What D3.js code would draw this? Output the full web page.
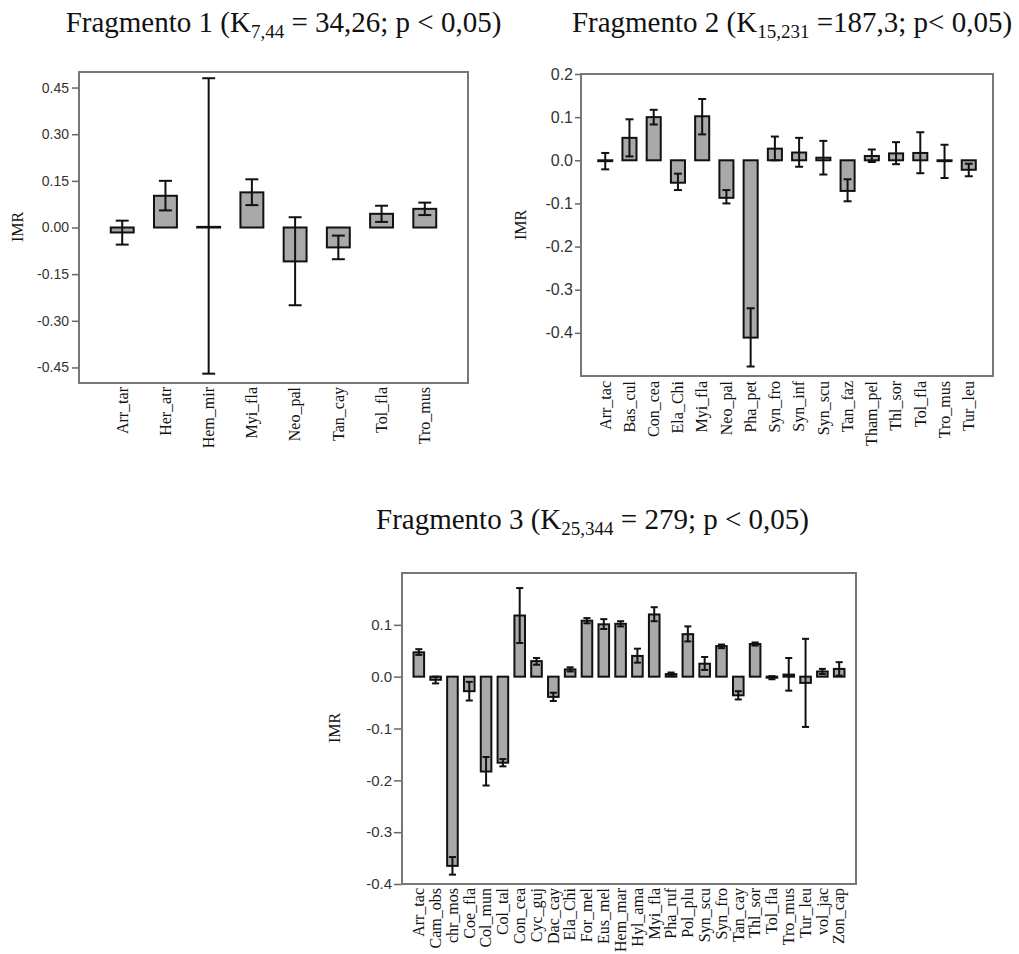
<!DOCTYPE html>
<html>
<head>
<meta charset="utf-8">
<script src="https://cdn.jsdelivr.net/npm/d3@7"></script>
<style>
  html, body { margin: 0; padding: 0; background: #fff; }
  svg { display: block; }
</style>
</head>
<body>
<script>
// ---- Fragmento 1 ----
const f1Species = ["Arr_tar", "Her_atr", "Hem_mir", "Myi_fla", "Neo_pal", "Tan_cay", "Tol_fla", "Tro_mus"];
const f1Mean = [-0.016, 0.102, 0.002, 0.113, -0.109, -0.064, 0.044, 0.060];
const f1Low  = [-0.055, 0.055, -0.470, 0.072, -0.250, -0.102, 0.018, 0.040];
const f1High = [0.022, 0.150, 0.480, 0.155, 0.033, -0.026, 0.070, 0.080];
const f1Ticks = [-0.45, -0.30, -0.15, 0.00, 0.15, 0.30, 0.45];

// ---- Fragmento 2 ----
const f2Species = ["Arr_tac", "Bas_cul", "Con_cea", "Ela_Chi", "Myi_fla", "Neo_pal", "Pha_pet", "Syn_fro",
                   "Syn_inf", "Syn_scu", "Tan_faz", "Tham_pel", "Thl_sor", "Tol_fla", "Tro_mus", "Tur_leu"];
const f2Mean = [-0.002, 0.052, 0.100, -0.052, 0.102, -0.087, -0.411, 0.027,
                0.018, 0.006, -0.071, 0.010, 0.016, 0.017, -0.002, -0.022];
const f2Low  = [-0.021, 0.009, 0.083, -0.069, 0.060, -0.100, -0.478, 0.000,
                -0.015, -0.033, -0.095, -0.004, -0.009, -0.030, -0.041, -0.037];
const f2High = [0.017, 0.095, 0.117, -0.031, 0.142, -0.069, -0.343, 0.055,
                0.052, 0.045, -0.044, 0.025, 0.042, 0.065, 0.036, -0.008];
const f2Ticks = [-0.4, -0.3, -0.2, -0.1, 0.0, 0.1, 0.2];

// ---- Fragmento 3 ----
const f3Species = ["Arr_tac", "Cam_obs", "chr_mos", "Coe_fla", "Col_mun", "Col_tal", "Con_cea", "Cyc_guj",
                   "Dac_cay", "Ela_Chi", "For_mel", "Eus_mel", "Hem_mar", "Hyl_ama", "Myi_fla", "Pha_ruf",
                   "Pol_plu", "Syn_scu", "Syn_fro", "Tan_cay", "Thl_sor", "Tol_fla", "Tro_mus", "Tur_leu",
                   "vol_jac", "Zon_cap"];
const f3Mean = [0.047, -0.006, -0.365, -0.028, -0.183, -0.166, 0.118, 0.030,
                -0.039, 0.014, 0.108, 0.101, 0.102, 0.040, 0.120, 0.005,
                0.082, 0.025, 0.059, -0.036, 0.063, -0.002, 0.004, -0.012,
                0.010, 0.015];
const f3Low  = [0.042, -0.013, -0.382, -0.046, -0.210, -0.173, 0.065, 0.023,
                -0.047, 0.010, 0.103, 0.092, 0.097, 0.027, 0.107, 0.002,
                0.068, 0.013, 0.055, -0.044, 0.060, -0.005, -0.027, -0.097,
                0.005, 0.002];
const f3High = [0.053, 0.000, -0.348, -0.010, -0.155, -0.159, 0.171, 0.036,
                -0.031, 0.018, 0.113, 0.111, 0.107, 0.054, 0.134, 0.008,
                0.097, 0.038, 0.062, -0.028, 0.066, 0.001, 0.036, 0.073,
                0.015, 0.028];
const f3Ticks = [-0.4, -0.3, -0.2, -0.1, 0.0, 0.1];

const W = 1019, H = 954;
const svg = d3.select("body").append("svg").attr("width", W).attr("height", H);
svg.append("rect").attr("width", W).attr("height", H).attr("fill", "#fff");

const locale = d3.formatLocale({ decimal: ".", thousands: ",", grouping: [3], currency: ["", ""], minus: "-" });

function drawTitle(cx, baseline, pre, sub, post) {
  const t = svg.append("text")
    .attr("x", cx).attr("y", baseline)
    .attr("text-anchor", "middle")
    .attr("font-family", "'Liberation Serif', 'Times New Roman', serif")
    .attr("font-size", 29).attr("fill", "#111");
  t.append("tspan").text(pre);
  t.append("tspan").attr("font-size", 19).attr("dy", 6).text(sub);
  t.append("tspan").attr("dy", -6).text(post);
}

function drawPanel(cfg) {
  const { species, mean, low, high, ticks, fmt, box, domain } = cfg;
  const g = svg.append("g");
  const x = d3.scalePoint().domain(species).range([box.left, box.right]).padding(1);
  const y = d3.scaleLinear().domain(domain).range([box.bottom, box.top]);
  const step = x.step();
  const bw = step * cfg.barRatio;
  const cw = step * cfg.capRatio;

  // y axis ticks
  const axis = d3.axisLeft(y).tickValues(ticks).tickFormat(locale.format(fmt))
    .tickSize(cfg.tickSize).tickPadding(cfg.tickPad);
  const ag = g.append("g").attr("transform", `translate(${box.left},0)`).call(axis);
  ag.select(".domain").remove();
  ag.selectAll(".tick line").attr("stroke", "#666").attr("stroke-width", 1.5);
  ag.selectAll(".tick text")
    .attr("font-family", "'Liberation Sans', Arial, sans-serif")
    .attr("font-size", cfg.tickFont).attr("fill", "#333");

  // bars
  const idx = d3.range(species.length);
  g.append("g").selectAll("rect").data(idx).join("rect")
    .attr("x", i => x(species[i]) - bw / 2)
    .attr("width", bw)
    .attr("y", i => y(Math.max(0, mean[i])))
    .attr("height", i => Math.max(0.6, Math.abs(y(mean[i]) - y(0))))
    .attr("fill", "#a9a9a9")
    .attr("stroke", "#111")
    .attr("stroke-width", 2);

  // error bars
  const eg = g.append("g").attr("stroke", "#111").attr("stroke-width", 2);
  eg.selectAll("line.v").data(idx).join("line").attr("class", "v")
    .attr("x1", i => x(species[i])).attr("x2", i => x(species[i]))
    .attr("y1", i => y(low[i])).attr("y2", i => y(high[i]));
  eg.selectAll("line.hi").data(idx).join("line").attr("class", "hi")
    .attr("x1", i => x(species[i]) - cw / 2).attr("x2", i => x(species[i]) + cw / 2)
    .attr("y1", i => y(high[i])).attr("y2", i => y(high[i]));
  eg.selectAll("line.lo").data(idx).join("line").attr("class", "lo")
    .attr("x1", i => x(species[i]) - cw / 2).attr("x2", i => x(species[i]) + cw / 2)
    .attr("y1", i => y(low[i])).attr("y2", i => y(low[i]));

  // frame
  g.append("rect")
    .attr("x", box.left).attr("y", box.top)
    .attr("width", box.right - box.left).attr("height", box.bottom - box.top)
    .attr("fill", "none").attr("stroke", "#777").attr("stroke-width", 2);

  // category labels, vertical
  g.append("g").selectAll("text").data(species).join("text")
    .attr("transform", d => `translate(${x(d)},${box.bottom + cfg.labelGap}) rotate(-90)`)
    .attr("text-anchor", "end")
    .attr("dy", "0.33em")
    .attr("font-family", "'Liberation Serif', 'Times New Roman', serif")
    .attr("font-size", cfg.labelFont).attr("fill", "#111")
    .text(d => d);

  // y label
  g.append("text")
    .attr("transform", `translate(${cfg.yLabel[0]},${cfg.yLabel[1]}) rotate(-90)`)
    .attr("text-anchor", "middle").attr("dy", "0.33em")
    .attr("font-family", "'Liberation Serif', 'Times New Roman', serif")
    .attr("font-size", 16).attr("fill", "#111")
    .text("IMR");
}

drawTitle(283.5, 32, "Fragmento 1 (K", "7,44", " = 34,26; p < 0,05)");
drawTitle(792, 32, "Fragmento 2 (K", "15,231", " =187,3; p< 0,05)");
drawTitle(592.5, 529, "Fragmento 3 (K", "25,344", " = 279; p < 0,05)");

drawPanel({
  species: f1Species, mean: f1Mean, low: f1Low, high: f1High,
  ticks: f1Ticks, fmt: ".2f", domain: [-0.5, 0.5],
  box: { left: 79, top: 72, right: 468, bottom: 383 },
  barRatio: 0.53, capRatio: 0.3, tickSize: 7, tickPad: 3, tickFont: 14,
  labelFont: 16, labelGap: 4, yLabel: [18, 227]
});

drawPanel({
  species: f2Species, mean: f2Mean, low: f2Low, high: f2High,
  ticks: f2Ticks, fmt: ".1f", domain: [-0.5, 0.2],
  box: { left: 581, top: 74, right: 993, bottom: 376 },
  barRatio: 0.58, capRatio: 0.33, tickSize: 6, tickPad: 2, tickFont: 16,
  labelFont: 16, labelGap: 5, yLabel: [521, 225]
});

drawPanel({
  species: f3Species, mean: f3Mean, low: f3Low, high: f3High,
  ticks: f3Ticks, fmt: ".1f", domain: [-0.4, 0.2],
  box: { left: 402, top: 573, right: 856, bottom: 884 },
  barRatio: 0.63, capRatio: 0.42, tickSize: 8, tickPad: 2, tickFont: 15,
  labelFont: 16, labelGap: 4, yLabel: [335, 728]
});
</script>
</body>
</html>
